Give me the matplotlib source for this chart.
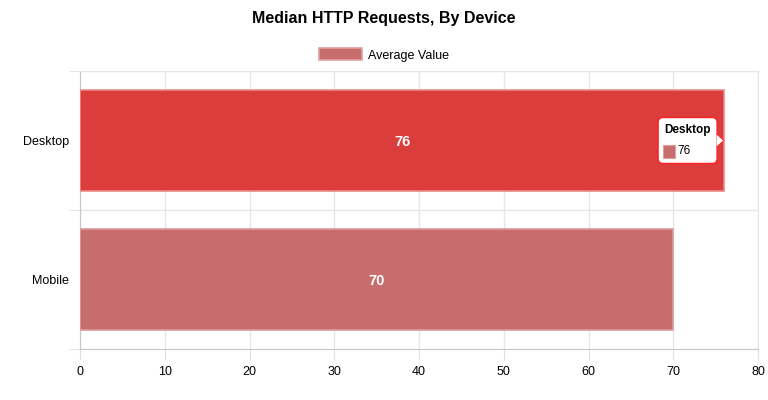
import matplotlib.pyplot as plt
import matplotlib.transforms as mtransforms
from matplotlib.patches import FancyBboxPatch, Rectangle, Polygon

plt.rcParams['font.family'] = ['Liberation Sans', 'DejaVu Sans']

devices = ['Desktop', 'Mobile']
values = [76, 70]
bar_colors = ['#db3c3c', '#c86d6d']
edge_colors = ['#e98a8a', '#dc9a9a']
series_name = 'Average Value'
hover_idx = 0  # Desktop bar shows the tooltip

fig = plt.figure(figsize=(7.68, 4.0), dpi=100)
ax = fig.add_axes([80 / 768, 51 / 400, 678 / 768, 278 / 400])

ypos = list(range(len(devices)))
ax.barh(ypos, values, height=0.72, color=bar_colors, edgecolor=edge_colors,
        linewidth=1.2, zorder=3, label=series_name)

for y, v in zip(ypos, values):
    ax.text(v / 2, y + 0.01, str(v), color='white', fontsize=10.5, fontweight='bold',
            ha='center', va='center', zorder=4)

ax.set_xlim(0, 80)
ax.set_ylim(len(devices) - 0.5, -0.5)
ax.set_xticks(range(0, 81, 10))
ax.set_yticks(ypos)
ax.set_yticklabels(devices)
ax.set_yticks([-0.5, 0.5, 1.5], minor=True)
ax.grid(axis='x', color='#e6e6e6', linewidth=1, zorder=0)
ax.grid(axis='y', which='minor', color='#e6e6e6', linewidth=1, zorder=0)
ax.tick_params(axis='x', length=8, color='#e0e0e0', labelsize=9, pad=4)
ax.tick_params(axis='y', which='major', length=0, labelsize=9, pad=8)
ax.tick_params(axis='y', which='minor', length=8, color='#e0e0e0')
for side in ['top', 'right']:
    ax.spines[side].set_color('#e6e6e6')
for side in ['left', 'bottom']:
    ax.spines[side].set_color('#c8c8c8')

fig.text(0.5, 1 - 19 / 400, 'Median HTTP Requests, By Device', ha='center',
         va='center', fontsize=11.5, fontweight='bold')

leg = fig.legend(loc='center', bbox_to_anchor=(0.5, 1 - 55 / 400), frameon=False,
                 fontsize=9, handlelength=3.5, handleheight=1.1, handletextpad=0.5)
leg.legend_handles[0].set_facecolor('#c86d6d')
leg.legend_handles[0].set_edgecolor('#e0a0a0')

# tooltip: pixel offsets relative to the end of the hovered bar
px = mtransforms.Affine2D().scale(1 / fig.dpi)
anchor = mtransforms.ScaledTranslation(values[hover_idx], ypos[hover_idx], ax.transData)
tt = px + fig.dpi_scale_trans + anchor

ax.add_patch(FancyBboxPatch((-66, -23), 59, 46, boxstyle='round,pad=0,rounding_size=5',
                            fc='white', ec='#ff2020', lw=1.0, transform=tt, zorder=6,
                            clip_on=False))
ax.add_patch(Polygon([(-7.5, 6), (-1, 0), (-7.5, -6)], closed=True, fc='white',
                     ec='none', transform=tt, zorder=7, clip_on=False))
ax.plot([-7, -1, -7], [6, 0, -6], color='#ff2020', lw=1.0, transform=tt, zorder=6,
        clip_on=False)
ax.add_patch(Rectangle((-61, -17), 12, 13, fc='#c86d6d', ec='#e0a0a0', lw=0.8,
                       transform=tt, zorder=8, clip_on=False))
ax.text(-60, 11, devices[hover_idx], fontsize=8.5, fontweight='bold', ha='left',
        va='center', transform=tt, zorder=8)
ax.text(-47, -10, str(values[hover_idx]), fontsize=8.5, ha='left', va='center',
        transform=tt, zorder=8)

fig.savefig('out.png', dpi=100)
